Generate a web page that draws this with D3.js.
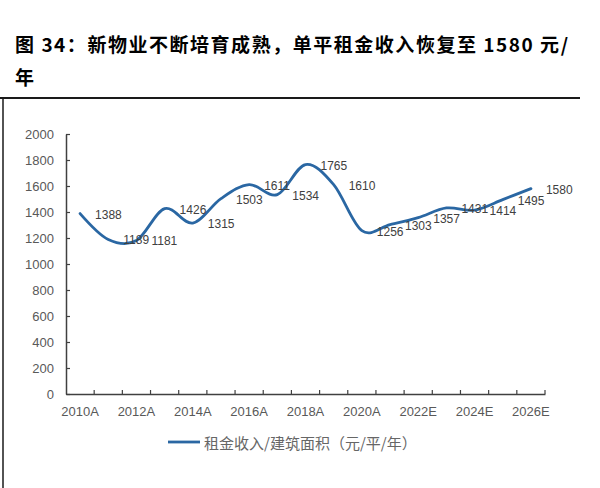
<!DOCTYPE html>
<html>
<head>
<meta charset="utf-8">
<script src="https://cdn.jsdelivr.net/npm/d3@7"></script>
<style>
  html, body { margin: 0; padding: 0; background: #fff; }
  svg { display: block; }
</style>
</head>
<body>
<div id="chart"></div>
<script>
const titleLine1 = "图 34：新物业不断培育成熟，单平租金收入恢复至 1580 元/";
const titleLine2 = "年";
const categories = ["2010A","2011A","2012A","2013A","2014A","2015A","2016A","2017A","2018A","2019A","2020A","2021A","2022E","2023E","2024E","2025E","2026E"];
const values = [1388, 1189, 1181, 1426, 1315, 1503, 1611, 1534, 1765, 1610, 1256, 1303, 1357, 1431, 1414, 1495, 1580];
const xTickLabels = ["2010A","2012A","2014A","2016A","2018A","2020A","2022E","2024E","2026E"];
const yTicks = [0, 200, 400, 600, 800, 1000, 1200, 1400, 1600, 1800, 2000];
const seriesName = "租金收入/建筑面积（元/平/年）";

const W = 600, H = 488;
const svg = d3.select("#chart").append("svg").attr("width", W).attr("height", H);

// title
const cjk = "'Noto Sans CJK SC', 'Noto Sans', sans-serif";
svg.append("text").attr("x", 15).attr("y", 52)
  .attr("font-family", cjk).attr("font-weight", 700).attr("font-size", 19)
  .attr("textLength", 553).attr("lengthAdjust", "spacing")
  .attr("fill", "#000").text(titleLine1);
svg.append("text").attr("x", 15).attr("y", 85)
  .attr("font-family", cjk).attr("font-weight", 700).attr("font-size", 19)
  .attr("fill", "#000").text(titleLine2);

// frame
svg.append("line").attr("x1", 0).attr("x2", 580).attr("y1", 98).attr("y2", 98)
  .attr("stroke", "#1a1a1a").attr("stroke-width", 2);
svg.append("line").attr("x1", 3).attr("x2", 3).attr("y1", 97).attr("y2", H)
  .attr("stroke", "#1a1a1a").attr("stroke-width", 1.5);

// scales
const x = d3.scaleBand().domain(categories).range([66, 545]).padding(0);
const y = d3.scaleLinear().domain([0, 2000]).range([394, 134]);
const cx = d => x(d) + x.bandwidth() / 2;

const axisColor = "#404040";
const labelFont = "'Liberation Sans', Arial, sans-serif";

// y axis
const yAxis = svg.append("g").attr("transform", "translate(66,0)")
  .call(d3.axisLeft(y).tickValues(yTicks).tickSizeInner(-4).tickSizeOuter(0).tickPadding(12).tickFormat(d3.format("d")));
yAxis.select(".domain").attr("stroke", axisColor).attr("stroke-width", 1.5);
yAxis.selectAll(".tick line").attr("stroke", axisColor).attr("stroke-width", 1.2);
yAxis.selectAll("text").attr("font-family", labelFont).attr("font-size", 13).attr("fill", "#595959");

// x axis
const xAxis = svg.append("g").attr("transform", "translate(0,394)")
  .call(d3.axisBottom(x).tickValues(xTickLabels).tickSize(0).tickPadding(13));
xAxis.select(".domain").attr("stroke", axisColor).attr("stroke-width", 1.5);
xAxis.selectAll("text").attr("font-family", labelFont).attr("font-size", 13).attr("fill", "#595959");
// boundary ticks (inside)
const bounds = categories.slice(1).map(c => x(c)).concat([x.range()[1]]);
xAxis.selectAll("line.bnd").data(bounds).enter().append("line")
  .attr("class", "bnd").attr("x1", d => d).attr("x2", d => d).attr("y1", 0).attr("y2", -4)
  .attr("stroke", axisColor).attr("stroke-width", 1.2);

// series line
const data = categories.map((c, i) => ({ c, v: values[i] }));
const line = d3.line().x(d => cx(d.c)).y(d => y(d.v)).curve(d3.curveCatmullRom.alpha(0));
svg.append("path").datum(data).attr("d", line)
  .attr("fill", "none").attr("stroke", "#2a67a3").attr("stroke-width", 2.8)
  .attr("stroke-linecap", "round").attr("stroke-linejoin", "round");

// data labels
svg.append("g").selectAll("text").data(data).enter().append("text")
  .attr("x", d => cx(d.c) + 15).attr("y", d => y(d.v) + 1)
  .attr("dominant-baseline", "central")
  .attr("font-family", "'Liberation Sans Narrow', 'Liberation Sans', sans-serif")
  .attr("font-size", 12).attr("fill", "#404040")
  .text(d => d.v);

// legend
svg.append("line").attr("x1", 168).attr("x2", 200).attr("y1", 442).attr("y2", 442)
  .attr("stroke", "#2a67a3").attr("stroke-width", 2.8);
svg.append("text").attr("x", 204).attr("y", 442).attr("dominant-baseline", "central")
  .attr("font-family", cjk).attr("font-size", 15).attr("fill", "#666")
  .text(seriesName);
</script>
</body>
</html>
